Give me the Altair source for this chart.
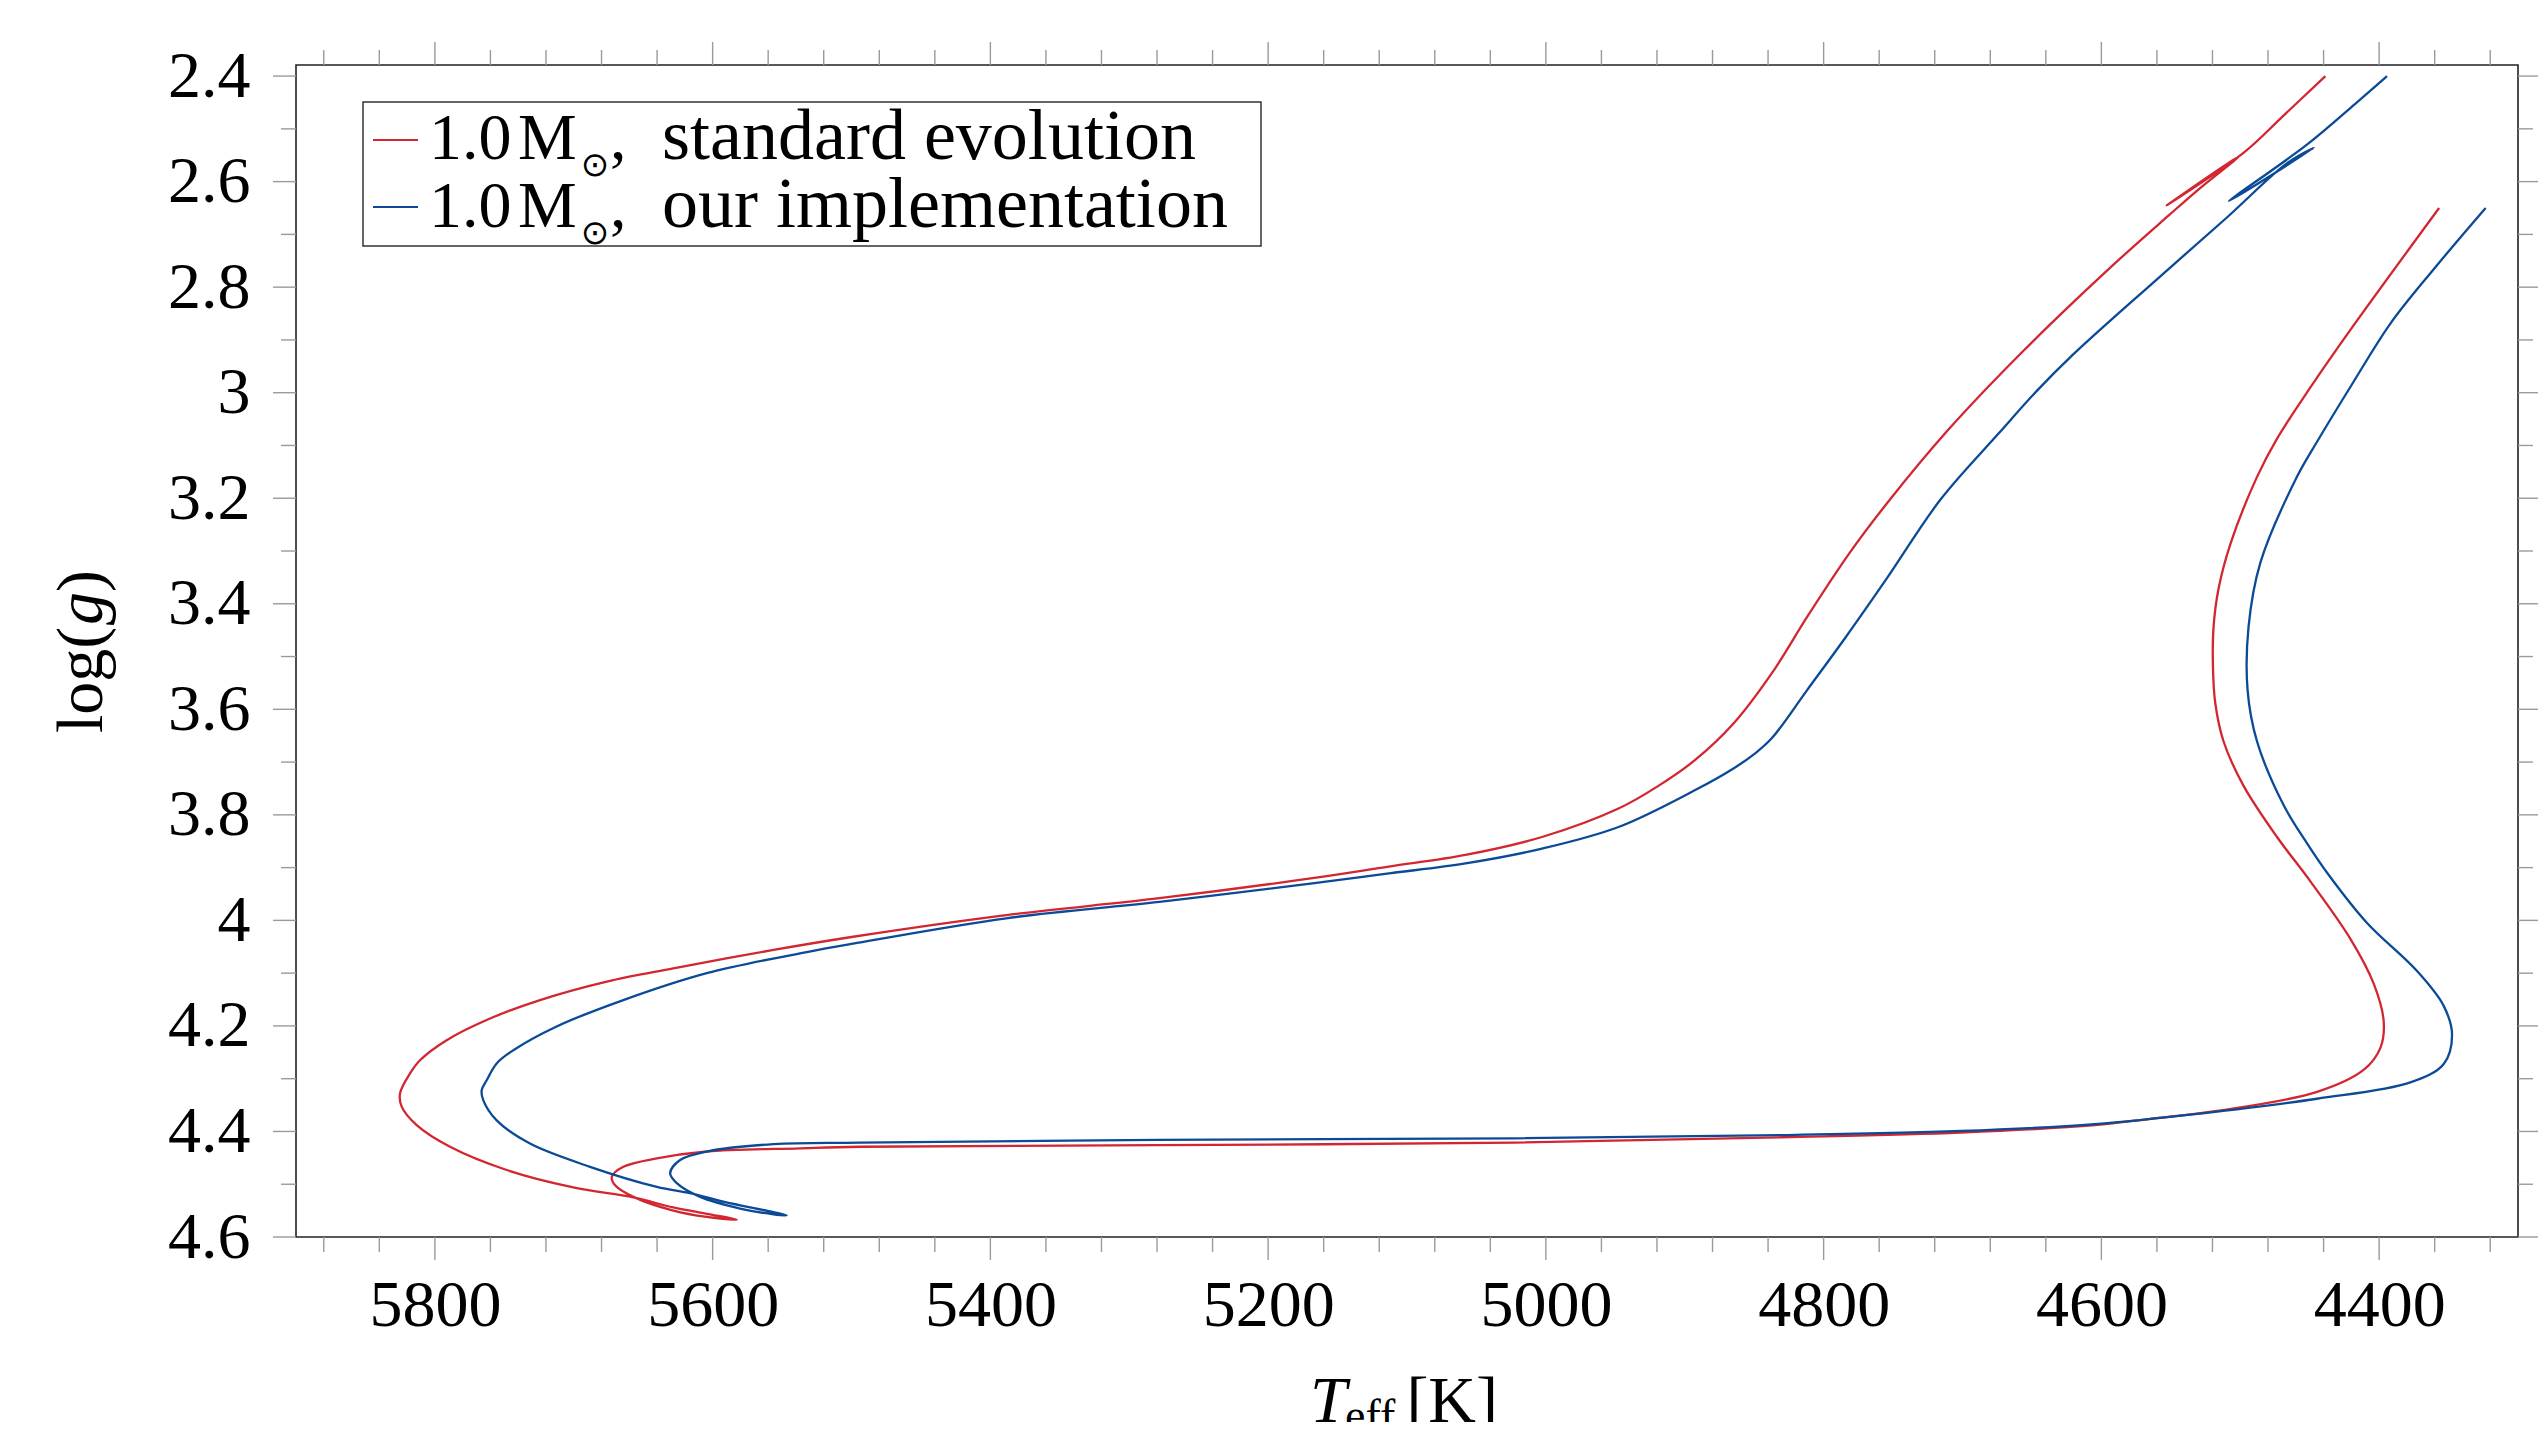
import altair as alt
import pandas as pd

# ---------------- data ----------------
red_T = [4356.8, 4420.7, 4449.5, 4473.5, 4488.0, 4507.0, 4515.6, 4519.2, 4519.7, 4518.0,
         4512.0, 4497.6, 4473.5, 4449.5, 4420.7, 4403.9, 4396.7, 4399.0, 4411.0, 4444.6,
         4516.7, 4564.8, 4604.6, 4701.1, 4829.8, 5022.8, 5279.9, 5493.8, 5537.0, 5604.2,
         5640.2, 5664.3, 5672.6, 5670.2, 5657.0, 5628.3, 5604.2, 5582.6, 5604.2, 5628.3,
         5657.0, 5700.3, 5748.3, 5789.1, 5813.1, 5823.9, 5825.1, 5817.9, 5810.7, 5791.5,
         5760.3, 5724.3, 5676.2, 5628.3, 5556.2, 5498.8, 5388.6, 5278.3, 5168.1, 5113.0,
         5057.9, 5002.8, 4947.7, 4920.1, 4892.5, 4864.9, 4837.4, 4811.2, 4781.4, 4754.5,
         4709.8, 4655.9, 4590.3, 4551.5, 4530.6, 4500.1, 4552.9, 4497.0, 4470.9, 4438.7]
red_logg = [2.650, 2.881, 2.990, 3.087, 3.160, 3.286, 3.371, 3.443, 3.515, 3.588,
            3.661, 3.745, 3.842, 3.926, 4.035, 4.120, 4.192, 4.241, 4.283, 4.325,
            4.361, 4.376, 4.388, 4.402, 4.411, 4.421, 4.426, 4.429, 4.432, 4.438,
            4.451, 4.467, 4.486, 4.502, 4.524, 4.550, 4.562, 4.567, 4.556, 4.544,
            4.525, 4.506, 4.473, 4.429, 4.388, 4.353, 4.328, 4.290, 4.265, 4.227,
            4.186, 4.151, 4.116, 4.091, 4.056, 4.031, 3.990, 3.958, 3.920, 3.898,
            3.876, 3.842, 3.788, 3.747, 3.696, 3.627, 3.532, 3.422, 3.304, 3.210,
            3.069, 2.920, 2.755, 2.664, 2.616, 2.550, 2.645, 2.544, 2.480, 2.400]

blue_T = [4323.3, 4360.7, 4391.9, 4419.5, 4444.7, 4459.1, 4485.5, 4494.0, 4494.7, 4487.9,
          4468.7, 4451.9, 4436.0, 4408.7, 4372.7, 4353.5, 4347.5, 4353.5, 4377.5, 4444.7,
          4528.7, 4604.6, 4701.1, 4829.8, 5022.8, 5279.9, 5493.8, 5556.2, 5604.2, 5623.4,
          5630.6, 5625.8, 5609.0, 5580.2, 5556.2, 5546.6, 5556.2, 5592.3, 5616.2, 5640.2,
          5688.3, 5731.5, 5755.5, 5765.1, 5766.3, 5762.7, 5755.5, 5743.5, 5712.3, 5664.3,
          5604.2, 5532.2, 5498.8, 5388.6, 5278.3, 5168.1, 5113.0, 5057.9, 5002.8, 4947.7,
          4892.5, 4864.9, 4850.0, 4837.4, 4812.0, 4784.0, 4754.5, 4715.7, 4673.9,
          4647.0, 4620.1, 4560.4, 4509.6, 4466.7, 4447.0, 4508.2, 4452.0, 4417.0, 4394.3]
blue_logg = [2.650, 2.766, 2.869, 2.984, 3.093, 3.159, 3.322, 3.443, 3.564, 3.661,
             3.782, 3.854, 3.915, 4.005, 4.096, 4.162, 4.217, 4.272, 4.307, 4.338,
             4.366, 4.386, 4.399, 4.407, 4.413, 4.416, 4.421, 4.424, 4.438, 4.454,
             4.479, 4.498, 4.524, 4.546, 4.557, 4.559, 4.553, 4.533, 4.517, 4.505,
             4.467, 4.423, 4.379, 4.341, 4.322, 4.303, 4.271, 4.246, 4.201, 4.151,
             4.100, 4.060, 4.044, 3.996, 3.965, 3.930, 3.911, 3.892, 3.864, 3.823,
             3.753, 3.712, 3.685, 3.655, 3.564, 3.463, 3.352, 3.202, 3.077,
             2.998, 2.927, 2.786, 2.668, 2.566, 2.536, 2.637, 2.530, 2.452, 2.400]

series_names = ["standard evolution", "our implementation"]
series_colors = ["#d22630", "#0a4a96"]

x_major = [5800, 5600, 5400, 5200, 5000, 4800, 4600, 4400]
x_minor = [5880, 5840, 5760, 5720, 5680, 5640, 5560, 5520, 5480, 5440, 5360, 5320, 5280, 5240,
           5160, 5120, 5080, 5040, 4960, 4920, 4880, 4840, 4760, 4720, 4680, 4640,
           4560, 4520, 4480, 4440, 4360, 4320]
y_major = [2.4, 2.6, 2.8, 3.0, 3.2, 3.4, 3.6, 3.8, 4.0, 4.2, 4.4, 4.6]
y_minor = [2.5, 2.7, 2.9, 3.1, 3.3, 3.5, 3.7, 3.9, 4.1, 4.3, 4.5]

# ---------------- layout constants ----------------
W, H = 2222, 1172
SERIF = "Liberation Serif"
TICK = "#9a9a9a"
MAJ, MIN = 23, 15

rows = []
for name, Ts, gs in [(series_names[0], red_T, red_logg), (series_names[1], blue_T, blue_logg)]:
    for i, (t, g) in enumerate(zip(Ts, gs)):
        rows.append({"series": name, "T": t, "logg": g, "idx": i})
df = pd.DataFrame(rows)

xs = alt.Scale(domain=[4300, 5900], reverse=True, nice=False, zero=False)
ys = alt.Scale(domain=[2.379, 4.6], reverse=True, nice=False, zero=False)

xaxis = alt.Axis(values=x_major, ticks=False, domain=False, grid=False, title=None,
                 labelFontSize=66, labelFont=SERIF, labelColor="#000", labelPadding=36,
                 format="d", labelOverlap=False, labelFlush=False)
yaxis = alt.Axis(values=y_major, ticks=False, domain=False, grid=False, title=None,
                 labelFontSize=66, labelFont=SERIF, labelColor="#000", labelPadding=46,
                 format=".2~f", labelOverlap=False, labelFlush=False)

lines = alt.Chart(df).mark_line(strokeWidth=2.3, interpolate="catmull-rom").encode(
    x=alt.X("T:Q", scale=xs, axis=xaxis),
    y=alt.Y("logg:Q", scale=ys, axis=yaxis),
    color=alt.Color("series:N", scale=alt.Scale(domain=series_names, range=series_colors), legend=None),
    order=alt.Order("idx:Q"),
    detail="series:N",
)


def xticks(vals, length, top):
    d = pd.DataFrame({"t": vals})
    y0, y1 = (0, -length) if top else (H, H + length)
    return alt.Chart(d).mark_rule(color=TICK, strokeWidth=1.4).encode(
        x=alt.X("t:Q", scale=xs, axis=xaxis), y=alt.value(y0), y2=alt.value(y1))


def yticks(vals, length, right):
    d = pd.DataFrame({"v": vals})
    x0, x1 = (W, W + length) if right else (0, -length)
    return alt.Chart(d).mark_rule(color=TICK, strokeWidth=1.4).encode(
        y=alt.Y("v:Q", scale=ys, axis=yaxis), x=alt.value(x0), x2=alt.value(x1))


tick_layers = [
    xticks(x_major, MAJ, False), xticks(x_minor, MIN, False),
    xticks(x_major, MAJ, True), xticks(x_minor, MIN, True),
    yticks(y_major, MAJ, False), yticks(y_minor, MIN, False),
    yticks(y_major, MAJ, True), yticks(y_minor, MIN, True),
]

one = pd.DataFrame({"a": [0]})


def text(s, x, y, size=66, font=SERIF, style="normal", angle=0, align="left", baseline="alphabetic"):
    kw = dict(font=font, fontSize=size, fontStyle=style, align=align, baseline=baseline, color="#000")
    if angle:
        kw["angle"] = angle
    return alt.Chart(one).mark_text(**kw).encode(
        x=alt.value(x), y=alt.value(y), text=alt.value(s))


# legend (drawn by hand)
legend_box = alt.Chart(one).mark_rect(fill="white", stroke="#333", strokeWidth=1.5).encode(
    x=alt.value(67), x2=alt.value(965), y=alt.value(37), y2=alt.value(181))
legend_layers = [legend_box]
for k, (name, col) in enumerate(zip(series_names, series_colors)):
    sy = 75 + 67 * k
    by = 94.3 + 67.4 * k
    legend_layers.append(alt.Chart(one).mark_rule(color=col, strokeWidth=2.2).encode(
        x=alt.value(77), x2=alt.value(122), y=alt.value(sy)))
    legend_layers.append(text("1.0", 133, by))
    legend_layers.append(text("M", 222, by))
    legend_layers.append(text("⊙", 299, by + 7, size=34, font="DejaVu Sans", align="center",
                              baseline="middle"))
    legend_layers.append(text(",", 314, by))
    legend_layers.append(text(name, 366, by, size=72))

# axis titles (drawn by hand for italics / subscript)
title_layers = [
    text("T", 1014, 1357, style="italic"),
    text("eff", 1049, 1366, size=46),
    text("[K]", 1202, 1357, align="right"),
    text("log(", -194, 668, angle=270),
    text("g", -194, 560, style="italic", angle=270),
    text(")", -194, 527, angle=270),
]

chart = alt.layer(lines, *tick_layers, *legend_layers, *title_layers).properties(
    width=W, height=H,
    autosize=alt.AutoSizeParams(type="none"),
    padding={"left": 288, "top": 57, "right": 20, "bottom": 185},
    background="white",
).configure_view(stroke="#222", strokeWidth=1.6)

chart.save("out.html", embed_options={"renderer": "svg", "actions": False})
